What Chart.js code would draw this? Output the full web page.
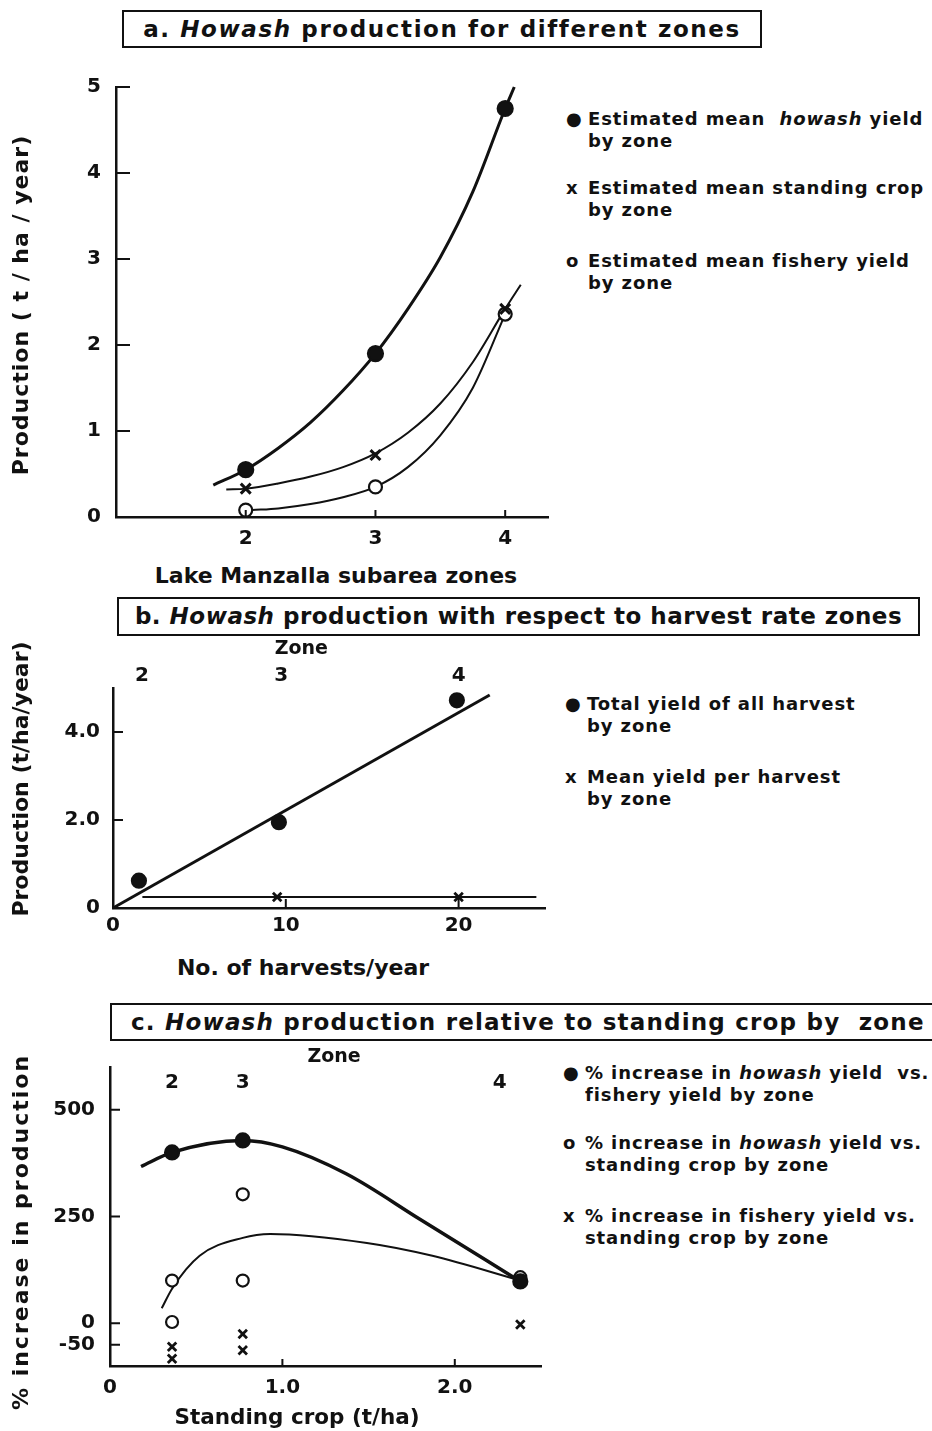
<!DOCTYPE html>
<html>
<head>
<meta charset="utf-8">
<script src="https://cdn.jsdelivr.net/npm/chart.js@4.4.1/dist/chart.umd.min.js"></script>
<style>
  body { margin: 0; width: 932px; height: 1431px; overflow: hidden; background: #fff; position: relative;
         font-family: 'DejaVu Sans', sans-serif; font-weight: bold; color: #111; }
  canvas { position: absolute; left: 0; }
  .box { position: absolute; border: 2px solid #111; box-sizing: border-box; font-size: 23px; line-height: 34px;
         white-space: nowrap; }
  .lbl { position: absolute; white-space: nowrap; transform: translate(-50%, -50%); }
  .rot { transform: translate(-50%, -50%) rotate(-90deg); }
  .leg { position: absolute; font-size: 18px; line-height: 22px; white-space: nowrap; letter-spacing: 0.9px; }
  .leg .m { position: absolute; left: -22px; top: 0; }
</style>
</head>
<body>

<div class="box" style="left:122px; top:10px; width:640px; height:38px; text-align:center; letter-spacing:1.6px;">a. <i>Howash</i> production for different zones</div>
<div class="box" style="left:117px; top:597px; width:803px; height:39px; text-align:center; letter-spacing:0.5px;">b. <i>Howash</i> production with respect to harvest rate zones</div>
<div class="box" style="left:110px; top:1003px; width:900px; height:38px; padding-left:19px; letter-spacing:1.2px;">c. <i>Howash</i> production relative to standing crop by &nbsp;zone</div>

<canvas id="chartA" width="560" height="500" style="top:60px"></canvas>
<canvas id="chartB" width="560" height="300" style="top:640px"></canvas>
<canvas id="chartC" width="560" height="370" style="top:1040px"></canvas>

<!-- axis titles -->
<div class="lbl rot" style="left:20px; top:305px; font-size:22px; letter-spacing:1px;">Production ( t / ha / year)</div>
<div class="lbl" style="left:336px; top:575px; font-size:22px;">Lake Manzalla subarea zones</div>
<div class="lbl rot" style="left:20px; top:779px; font-size:22px;">Production (t/ha/year)</div>
<div class="lbl" style="left:303px; top:967px; font-size:22px;">No. of harvests/year</div>
<div class="lbl rot" style="left:20px; top:1232px; font-size:22px; letter-spacing:2px;">% increase in production</div>
<div class="lbl" style="left:297px; top:1416px; font-size:21.5px;">Standing crop (t/ha)</div>

<!-- legends -->
<div class="leg" style="left:588px; top:108px;"><span class="m">●</span>Estimated mean &nbsp;<i>howash</i> yield<br>by zone</div>
<div class="leg" style="left:588px; top:177px;"><span class="m">x</span>Estimated mean standing crop<br>by zone</div>
<div class="leg" style="left:588px; top:250px;"><span class="m">o</span>Estimated mean fishery yield<br>by zone</div>

<div class="leg" style="left:587px; top:693px;"><span class="m">●</span>Total yield of all harvest<br>by zone</div>
<div class="leg" style="left:587px; top:766px;"><span class="m">x</span>Mean yield per harvest<br>by zone</div>

<div class="leg" style="left:585px; top:1062px;"><span class="m">●</span>% increase in <i>howash</i> yield &nbsp;vs.<br>fishery yield by zone</div>
<div class="leg" style="left:585px; top:1132px;"><span class="m">o</span>% increase in <i>howash</i> yield vs.<br>standing crop by zone</div>
<div class="leg" style="left:585px; top:1205px;"><span class="m">x</span>% increase in fishery yield vs.<br>standing crop by zone</div>

<script>
// ---- a. production by zone ----
const zonesA = [2, 3, 4];
const howashYieldA = [0.55, 1.9, 4.75];
const standingCropA = [0.33, 0.72, 2.42];
const fisheryYieldA = [0.08, 0.35, 2.36];
// hand-drawn fitted curves
const howashCurveX = [1.75, 2, 2.25, 2.5, 2.75, 3, 3.25, 3.5, 3.75, 4, 4.07];
const howashCurveY = [0.37, 0.55, 0.8, 1.1, 1.47, 1.9, 2.42, 3.02, 3.78, 4.75, 5.0];
const cropCurveX = [1.85, 2, 2.25, 2.5, 2.75, 3, 3.25, 3.5, 3.75, 4, 4.12];
const cropCurveY = [0.32, 0.33, 0.39, 0.47, 0.58, 0.74, 0.98, 1.32, 1.8, 2.42, 2.7];
const fishCurveX = [2.05, 2.25, 2.5, 2.75, 3, 3.25, 3.5, 3.75, 4];
const fishCurveY = [0.08, 0.1, 0.15, 0.23, 0.35, 0.58, 0.95, 1.5, 2.36];
const aXTicks = [2, 3, 4];
const aYTicks = [0, 1, 2, 3, 4, 5];

// ---- b. production vs harvest rate ----
const harvestsB = [1.5, 9.6, 19.9];
const totalYieldB = [0.62, 1.95, 4.72];
const perHarvestB = [9.5, 20];
const perHarvestYieldB = [0.25, 0.25];
const totalFitX = [0, 21.8];
const totalFitY = [0, 4.84];
const perHarvestFitX = [1.7, 24.5];
const perHarvestFitY = [0.25, 0.25];
const bXTicks = [0, 10, 20];
const bXLabels = ['0', '10', '20'];
const bYTicks = [0, 2, 4];
const bYLabels = ['0', '2.0', '4.0'];
const bZoneAt = [1.67, 9.74, 20.0];
const zoneNames = ['2', '3', '4'];

// ---- c. % increase vs standing crop ----
const cropFilledX = [0.36, 0.77, 2.38];
const howashVsFishery = [400, 428, 98];
const cropOpenX = [0.36, 0.36, 0.77, 0.77, 2.38];
const howashVsCrop = [100, 3, 100, 302, 108];
const cropCrossX = [0.36, 0.36, 0.77, 0.77, 2.38];
const fisheryVsCrop = [-55, -83, -25, -63, -3];
const fitFisheryX = [0.18, 0.36, 0.77, 1.0, 1.37, 1.8, 2.38];
const fitFisheryY = [367, 400, 428, 413, 350, 243, 98];
const fitCropX = [0.3, 0.36, 0.52, 0.77, 0.93, 1.49, 1.87, 2.38];
const fitCropY = [35, 81, 158, 200, 209, 188, 158, 100];
const cXTicks = [0, 1, 2];
const cXLabels = ['0', '1.0', '2.0'];
const cYTicks = [500, 250, 0, -50];
const cZoneAt = [0.36, 0.77, 2.26];

const FONT = "'DejaVu Sans', sans-serif";
const INK = '#111';

function zip(xs, ys) {
    return xs.map((x, i) => ({ x: x, y: ys[i] }));
}

function curve(xs, ys, width) {
    return {
        data: zip(xs, ys),
        showLine: true,
        borderColor: INK,
        borderWidth: width,
        pointRadius: 0,
        cubicInterpolationMode: 'monotone',
        clip: false
    };
}

function marks(xs, ys, style, radius, fill, width) {
    return {
        data: zip(xs, ys),
        showLine: false,
        pointStyle: style,
        pointRadius: radius,
        backgroundColor: fill,
        borderColor: INK,
        borderWidth: width || 2.2,
        clip: false
    };
}

// tick marks pointing into the plot, like the original drawing
function inwardTicks(xVals, yVals, xLen, yLen) {
    return {
        id: 'inwardTicks',
        afterDraw(chart) {
            const { ctx, chartArea, scales } = chart;
            ctx.save();
            ctx.strokeStyle = INK;
            ctx.lineWidth = 2;
            ctx.beginPath();
            xVals.forEach(v => {
                const px = scales.x.getPixelForValue(v);
                ctx.moveTo(px, chartArea.bottom);
                ctx.lineTo(px, chartArea.bottom - xLen);
            });
            yVals.forEach(v => {
                const py = scales.y.getPixelForValue(v);
                ctx.moveTo(chartArea.left, py);
                ctx.lineTo(chartArea.left + yLen, py);
            });
            ctx.stroke();
            ctx.restore();
        }
    };
}

// "Zone 2 3 4" labels written above the points
function zoneLabels(at, titleAt, labelY, titleY) {
    return {
        id: 'zoneLabels',
        afterDraw(chart) {
            const { ctx, scales } = chart;
            ctx.save();
            ctx.fillStyle = INK;
            ctx.textAlign = 'center';
            ctx.textBaseline = 'middle';
            ctx.font = 'bold 20px ' + FONT;
            at.forEach((v, i) => ctx.fillText(zoneNames[i], scales.x.getPixelForValue(v), labelY));
            ctx.font = 'bold 19px ' + FONT;
            ctx.fillText('Zone', scales.x.getPixelForValue(titleAt), titleY);
            ctx.restore();
        }
    };
}

function axes(p) {
    const tickFont = { family: FONT, size: 20, weight: 'bold' };
    return {
        responsive: false,
        animation: false,
        layout: { padding: { top: p.padTop, right: p.padRight, left: 0, bottom: 0 } },
        plugins: { legend: { display: false }, tooltip: { enabled: false } },
        scales: {
            x: {
                type: 'linear', min: p.xMin, max: p.xMax,
                afterFit: s => { s.height = p.xHeight; },
                afterBuildTicks: s => { s.ticks = p.xTicks.map(v => ({ value: v })); },
                ticks: { callback: (v, i) => p.xLabels[i], font: tickFont, color: INK, padding: p.xPad, maxRotation: 0, autoSkip: false },
                grid: { display: false, drawTicks: false },
                border: { color: INK, width: 2.5 }
            },
            y: {
                type: 'linear', min: p.yMin, max: p.yMax,
                afterFit: s => { s.width = p.yWidth; },
                afterBuildTicks: s => { s.ticks = p.yTicks.map(v => ({ value: v })); },
                ticks: { callback: (v, i) => p.yLabels[i], font: tickFont, color: INK, padding: p.yPad, autoSkip: false },
                grid: { display: false, drawTicks: false },
                border: { color: INK, width: 2.5 }
            }
        }
    };
}

new Chart(document.getElementById('chartA'), {
    type: 'scatter',
    data: {
        datasets: [
            marks(zonesA, howashYieldA, 'circle', 7.5, INK),
            marks(zonesA, standingCropA, 'crossRot', 7, INK, 3),
            marks(zonesA, fisheryYieldA, 'circle', 6.5, '#fff'),
            curve(howashCurveX, howashCurveY, 3),
            curve(cropCurveX, cropCurveY, 2),
            curve(fishCurveX, fishCurveY, 2)
        ]
    },
    options: axes({
        padTop: 22, padRight: 12, xHeight: 43, yWidth: 116,
        xMin: 1, xMax: 4.33, yMin: 0, yMax: 5,
        xTicks: aXTicks, xLabels: aXTicks.map(String), xPad: 10,
        yTicks: aYTicks, yLabels: aYTicks.map(String), yPad: 15
    }),
    plugins: [inwardTicks(aXTicks, aYTicks, 7, 14)]
});

new Chart(document.getElementById('chartB'), {
    type: 'scatter',
    data: {
        datasets: [
            marks(harvestsB, totalYieldB, 'circle', 7, INK),
            marks(perHarvestB, perHarvestYieldB, 'crossRot', 6, INK, 2.8),
            curve(totalFitX, totalFitY, 3),
            curve(perHarvestFitX, perHarvestFitY, 2)
        ]
    },
    options: axes({
        padTop: 48, padRight: 15, xHeight: 32, yWidth: 113,
        xMin: 0, xMax: 25, yMin: 0, yMax: 5,
        xTicks: bXTicks, xLabels: bXLabels, xPad: 6,
        yTicks: bYTicks, yLabels: bYLabels, yPad: 13
    }),
    plugins: [inwardTicks([10, 20], [2, 4], 9, 10), zoneLabels(bZoneAt, 10.9, 36, 9)]
});

new Chart(document.getElementById('chartC'), {
    type: 'scatter',
    data: {
        datasets: [
            marks(cropFilledX, howashVsFishery, 'circle', 7, INK),
            marks(cropOpenX, howashVsCrop, 'circle', 6, '#fff'),
            marks(cropCrossX, fisheryVsCrop, 'crossRot', 6, INK, 2.8),
            curve(fitFisheryX, fitFisheryY, 3.5),
            curve(fitCropX, fitCropY, 2)
        ]
    },
    options: axes({
        padTop: 22, padRight: 19, xHeight: 44, yWidth: 110,
        xMin: 0, xMax: 2.5, yMin: -100, yMax: 600,
        xTicks: cXTicks, xLabels: cXLabels, xPad: 10,
        yTicks: cYTicks, yLabels: cYTicks.map(String), yPad: 15
    }),
    plugins: [inwardTicks([1, 2], cYTicks, 7, 10), zoneLabels(cZoneAt, 1.30, 43, 17)]
});
</script>
</body>
</html>
